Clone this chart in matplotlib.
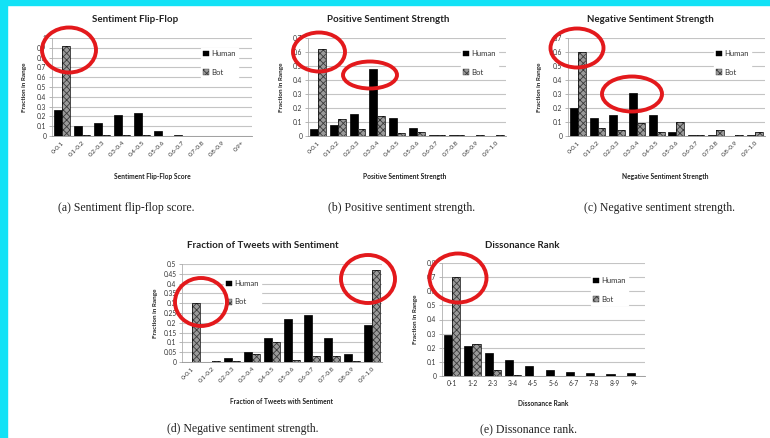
import matplotlib
matplotlib.use("Agg")
import matplotlib.pyplot as plt
from matplotlib.patches import Patch, Ellipse, Rectangle
import numpy as np

# ---------------- data ----------------
cats_a = ["0-0.1", "0.1-0.2", "0.2-0.3", "0.3-0.4", "0.4-0.5", "0.5-0.6", "0.6-0.7", "0.7-0.8", "0.8-0.9", "0.9+"]
human_a = [0.27, 0.10, 0.13, 0.21, 0.23, 0.05, 0.01, 0.0, 0.0, 0.0]
bot_a = [0.92, 0.01, 0.01, 0.01, 0.01, 0.003, 0.003, 0.003, 0.003, 0.003]

cats_b = ["0-0.1", "0.1-0.2", "0.2-0.3", "0.3-0.4", "0.4-0.5", "0.5-0.6", "0.6-0.7", "0.7-0.8", "0.8-0.9", "0.9-1.0"]
human_b = [0.05, 0.08, 0.16, 0.48, 0.13, 0.06, 0.01, 0.01, 0.0, 0.0]
bot_b = [0.62, 0.12, 0.05, 0.14, 0.02, 0.03, 0.005, 0.01, 0.005, 0.005]

cats_c = cats_b
human_c = [0.20, 0.13, 0.15, 0.31, 0.15, 0.03, 0.005, 0.005, 0.0, 0.005]
bot_c = [0.60, 0.06, 0.04, 0.09, 0.03, 0.10, 0.01, 0.04, 0.005, 0.03]

cats_d = cats_b
human_d = [0.0, 0.0, 0.02, 0.05, 0.12, 0.22, 0.24, 0.12, 0.04, 0.19]
bot_d = [0.30, 0.003, 0.005, 0.04, 0.10, 0.01, 0.03, 0.03, 0.005, 0.47]

cats_e = ["0-1", "1-2", "2-3", "3-4", "4-5", "5-6", "6-7", "7-8", "8-9", "9+"]
human_e = [0.29, 0.21, 0.16, 0.11, 0.07, 0.04, 0.025, 0.02, 0.015, 0.02]
bot_e = [0.70, 0.23, 0.04, 0.01, 0.0, 0.0, 0.0, 0.0, 0.0, 0.0]

titles = ["Sentiment Flip-Flop", "Positive Sentiment Strength", "Negative Sentiment Strength",
          "Fraction of Tweets with Sentiment", "Dissonance Rank"]
xlabels = ["Sentiment Flip-Flop Score", "Positive Sentiment Strength", "Negative Sentiment Strength",
           "Fraction of Tweets with Sentiment", "Dissonance Rank"]
captions = ["(a) Sentiment flip-flop score.", "(b) Positive sentiment strength.",
            "(c) Negative sentiment strength.", "(d) Negative sentiment strength.",
            "(e) Dissonance rank."]
yticks_list = [
    [0, 0.1, 0.2, 0.3, 0.4, 0.5, 0.6, 0.7, 0.8, 0.9, 1.0],
    [0, 0.1, 0.2, 0.3, 0.4, 0.5, 0.6, 0.7],
    [0, 0.1, 0.2, 0.3, 0.4, 0.5, 0.6, 0.7],
    [0, 0.05, 0.1, 0.15, 0.2, 0.25, 0.3, 0.35, 0.4, 0.45, 0.5],
    [0, 0.1, 0.2, 0.3, 0.4, 0.5, 0.6, 0.7, 0.8],
]
ytick_labels = [
    ["0", "0.1", "0.2", "0.3", "0.4", "0.5", "0.6", "0.7", "0.8", "0.9", "1"],
    ["0", "0.1", "0.2", "0.3", "0.4", "0.5", "0.6", "0.7"],
    ["0", "0.1", "0.2", "0.3", "0.4", "0.5", "0.6", "0.7"],
    ["0", "0.05", "0.1", "0.15", "0.2", "0.25", "0.3", "0.35", "0.4", "0.45", "0.5"],
    ["0", "0.1", "0.2", "0.3", "0.4", "0.5", "0.6", "0.7", "0.8"],
]

# ---------------- layout (pixels) ----------------
W, H = 770, 438
fig = plt.figure(figsize=(W / 100, H / 100), dpi=100)
fig.patch.set_facecolor("white")

def fx(x):
    return x / W

def fy(y):
    return 1 - y / H

# (x0, x1, ytop, ybot) in pixels
boxes = [(52, 252, 38, 136), (308, 506, 38, 136), (568, 765, 38, 136),
         (182, 382, 264, 362), (442, 645, 263, 376)]
title_pos = [(135, 19), (388, 19), (650, 19), (263, 245), (522, 245)]
xlabel_pos = [(152, 177), (405, 177), (665, 176), (282, 402), (543, 403)]
caption_pos = [(126, 208), (402, 208), (660, 208), (243, 429), (528, 429)]
legend_pos = [(197, 44), (457, 44), (710, 44), (220, 274), (587, 271)]
ylabel_x = [25, 281, 540, 155, 415]
rotated = [True, True, True, True, False]

hum_color = "black"
bot_face = "#9a9a9a"
bot_hatch_col = "#3a3a3a"

data = [(cats_a, human_a, bot_a), (cats_b, human_b, bot_b), (cats_c, human_c, bot_c),
        (cats_d, human_d, bot_d), (cats_e, human_e, bot_e)]

plt.rcParams['hatch.linewidth'] = 0.6

for k, (cats, hum, bot) in enumerate(data):
    x0, x1, yt, yb = boxes[k]
    ax = fig.add_axes([fx(x0), fy(yb), (x1 - x0) / W, (yb - yt) / H])
    x = np.arange(len(cats))
    ax.bar(x - 0.2, hum, width=0.4, color=hum_color, edgecolor="black", linewidth=0.5, zorder=3)
    ax.bar(x + 0.2, bot, width=0.4, color=bot_face, hatch="xxxxx", edgecolor=bot_hatch_col,
           linewidth=0, zorder=3)
    ax.bar(x + 0.2, bot, width=0.4, fill=False, edgecolor="black", linewidth=0.5, zorder=4)
    yt_vals = yticks_list[k]
    ax.set_ylim(0, yt_vals[-1])
    ax.set_xlim(-0.5, len(cats) - 0.5)
    ax.set_yticks(yt_vals)
    ax.set_yticklabels(ytick_labels[k], fontsize=4.8, color="#333333", family="Lato")
    ax.set_xticks(x)
    if rotated[k]:
        ax.set_xticklabels(cats, rotation=45, ha="right", rotation_mode="anchor",
                           fontsize=4.6, color="#333333", family="Lato")
    else:
        ax.set_xticklabels(cats, fontsize=4.8, color="#333333", family="Lato")
    ax.tick_params(axis="x", length=0, pad=3)
    ax.tick_params(axis="y", length=2, width=0.5, color="#999999", pad=2)
    ax.grid(axis="y", color="#c4c4c4", linewidth=0.8, zorder=0)
    ax.set_axisbelow(True)
    for s in ["top", "right"]:
        ax.spines[s].set_visible(False)
    ax.spines["left"].set_color("#b0b0b0")
    ax.spines["left"].set_linewidth(0.6)
    ax.spines["bottom"].set_color("#909090")
    ax.spines["bottom"].set_linewidth(0.6)

    handles = [Patch(facecolor="black", edgecolor="black", linewidth=0.3),
               Patch(facecolor=bot_face, hatch="xxxxx", edgecolor=bot_hatch_col, linewidth=0.3)]
    lx, ly = legend_pos[k]
    leg = ax.legend(handles, ["Human", "Bot"], loc="upper left",
                    bbox_to_anchor=(fx(lx), fy(ly)), bbox_transform=fig.transFigure,
                    frameon=True, fancybox=False, framealpha=1, edgecolor="white",
                    prop={"family": "Lato", "size": 5.6}, handlelength=0.7, handleheight=0.7,
                    handletextpad=0.3, labelspacing=1.45, borderpad=0.3)
    for t in leg.get_texts():
        t.set_color("#333333")
    leg.set_zorder(5)

    tx, ty = title_pos[k]
    fig.text(fx(tx), fy(ty), titles[k], ha="center", va="center", fontsize=7,
             fontweight="bold", family="Lato", color="#222222")
    lx2, ly2 = xlabel_pos[k]
    fig.text(fx(lx2), fy(ly2), xlabels[k], ha="center", va="center", fontsize=4.8,
             fontweight="bold", family="Lato", color="#222222")
    fig.text(fx(ylabel_x[k]), fy((yt + yb) / 2), "Fraction in Range", ha="center", va="center",
             rotation=90, fontsize=4.6, fontweight="bold", family="Lato", color="#222222")
    cx, cy = caption_pos[k]
    fig.text(fx(cx), fy(cy), captions[k], ha="center", va="center", fontsize=8.5,
             family="Liberation Serif", color="#222222")

# red ellipses (center x, center y, width, height) in pixels
ellipses = [(69, 50, 54, 45), (319, 52, 52, 39), (370, 75, 54, 27),
            (577, 48, 53, 39), (632, 94, 60, 35), (201, 302, 52, 48),
            (368, 279, 54, 48), (458, 278, 57, 49)]
for (cx, cy, w, h) in ellipses:
    e = Ellipse((cx, H - cy), w, h, transform=None, fill=False,
                edgecolor="#e3191c", linewidth=2.8, zorder=10)
    fig.patches.append(e)

# cyan frame
fig.patches.append(Rectangle((0, 0), fx(7), 1, transform=fig.transFigure,
                             color="#12e2f6", zorder=20))
fig.patches.append(Rectangle((0, fy(5)), 1, 5 / H, transform=fig.transFigure,
                             color="#12e2f6", zorder=20))

fig.savefig("out.png", dpi=100)
